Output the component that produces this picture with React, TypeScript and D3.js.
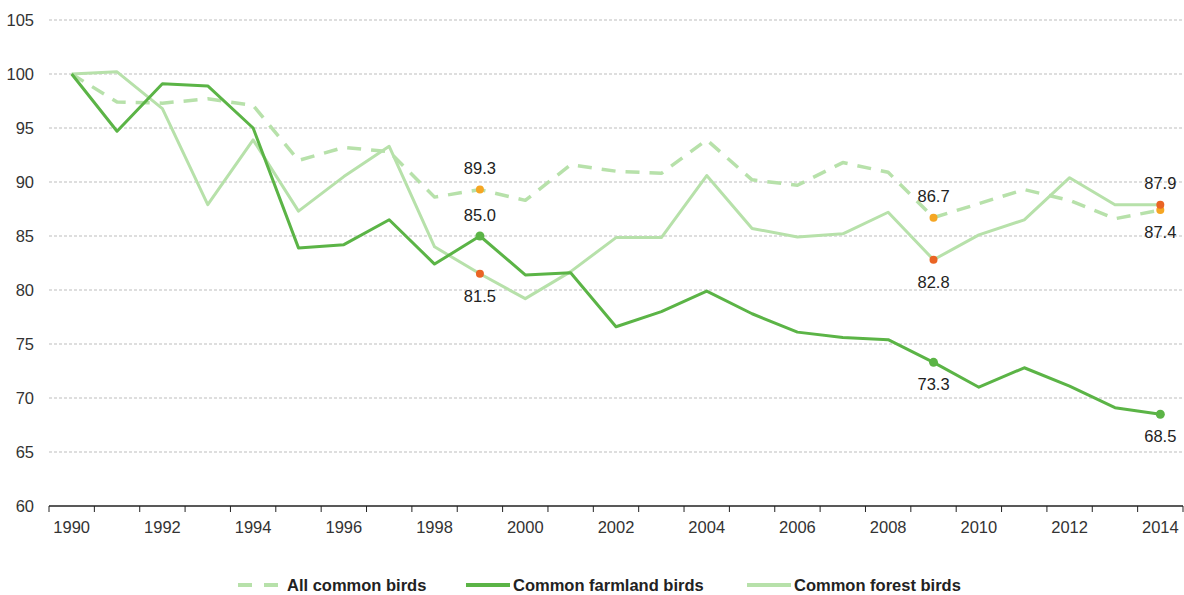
import React from "react";
import * as d3 from "d3";

const years = d3.range(1990, 2015).map(String);
const tickYears = years.filter((_, i) => i % 2 === 0);
const yTicks = [60, 65, 70, 75, 80, 85, 90, 95, 100, 105];

const allBirds = [100, 97.4, 97.3, 97.7, 97.1, 92.0, 93.2, 92.8, 88.6, 89.3, 88.3, 91.6, 91.0, 90.8, 93.9, 90.2, 89.7, 91.8, 90.9, 86.7, 88.0, 89.3, 88.3, 86.6, 87.4];
const farmland = [100, 94.7, 99.1, 98.9, 95.0, 83.9, 84.2, 86.5, 82.4, 85.0, 81.4, 81.6, 76.6, 78.0, 79.9, 77.8, 76.1, 75.6, 75.4, 73.3, 71.0, 72.8, 71.1, 69.1, 68.5];
const forest = [100, 100.2, 96.8, 87.9, 93.9, 87.3, 90.5, 93.3, 84.0, 81.5, 79.2, 81.7, 84.85, 84.85, 90.6, 85.7, 84.9, 85.2, 87.2, 82.8, 85.1, 86.5, 90.4, 87.9, 87.9];

const highlightYears = ["1999", "2009", "2014"];

const DARK = "#5bb446";
const LIGHT = "#b7e1aa";
const ORANGE = "#f5a623";
const RED = "#ea6424";
const FONT = "Arial, 'Liberation Sans', sans-serif";

export default function App() {
  const W = 1184, H = 595;
  const left = 49, right = 1183, top = 20, bottom = 506;
  const x = d3.scaleBand<string>().domain(years).range([left, right]);
  const y = d3.scaleLinear().domain([60, 105]).range([bottom, top]);
  const cx = (yr: string) => (x(yr) as number) + x.bandwidth() / 2;
  const line = (vals: number[]) =>
    d3.line<number>().x((_, i) => cx(years[i])).y((d) => y(d))(vals) as string;

  type Lab = { series: number[]; color: string; r: number; above: boolean };
  const labelsFor = (yr: string): Lab[] => [
    { series: farmland, color: DARK, r: 4.5, above: yr === "1999" },
    { series: allBirds, color: ORANGE, r: 4, above: yr !== "2014" },
    { series: forest, color: RED, r: 4, above: yr === "2014" },
  ];

  const boundaries = years.map((yr) => x(yr) as number).concat([right]);

  return (
    <svg width={W} height={H} style={{ display: "block", position: "absolute", left: 0, top: 0 }} fontFamily={FONT}>
      <rect width={W} height={H} fill="#fff" />
      {yTicks.filter((t) => t > 60).map((t) => (
        <line key={t} x1={left} x2={right} y1={y(t)} y2={y(t)} stroke="#bdbdbd" strokeWidth={1} strokeDasharray="3,2" />
      ))}
      {yTicks.map((t) => (
        <text key={t} x={34} y={y(t)} dy="0.35em" textAnchor="end" fontSize={16.5} fill="#333">{t}</text>
      ))}
      <line x1={left} x2={right} y1={bottom} y2={bottom} stroke="#222" strokeWidth={1.5} />
      {boundaries.map((b, i) => (
        <line key={i} x1={b} x2={b} y1={bottom} y2={bottom + 6} stroke="#222" strokeWidth={1} />
      ))}
      {tickYears.map((yr) => (
        <text key={yr} x={cx(yr)} y={bottom + 21} dy="0.35em" textAnchor="middle" fontSize={16.5} fill="#333">{yr}</text>
      ))}

      <path d={line(forest)} fill="none" stroke={LIGHT} strokeWidth={3} strokeLinejoin="round" />
      <path d={line(allBirds)} fill="none" stroke={LIGHT} strokeWidth={3.5} strokeDasharray="14,10" strokeLinejoin="round" />
      <path d={line(farmland)} fill="none" stroke={DARK} strokeWidth={3} strokeLinejoin="round" />

      {highlightYears.map((yr) => {
        const i = years.indexOf(yr);
        return labelsFor(yr).map((o, k) => {
          const v = o.series[i];
          const px = cx(yr), py = y(v);
          return (
            <g key={yr + k}>
              <circle cx={px} cy={py} r={o.r} fill={o.color} />
              <text x={px} y={o.above ? py - 21 : py + 22} dy="0.35em" textAnchor="middle" fontSize={16.5} fill="#222">{v.toFixed(1)}</text>
            </g>
          );
        });
      })}

      <g fontSize={16.5} fontWeight="bold" fill="#222">
        <line x1={238} x2={278} y1={585} y2={585} stroke={LIGHT} strokeWidth={4} strokeDasharray="14,12" />
        <text x={287} y={585} dy="0.35em">All common birds</text>
        <line x1={466} x2={510} y1={585} y2={585} stroke={DARK} strokeWidth={4} />
        <text x={513} y={585} dy="0.35em">Common farmland birds</text>
        <line x1={747} x2={791} y1={585} y2={585} stroke={LIGHT} strokeWidth={4} />
        <text x={794} y={585} dy="0.35em">Common forest birds</text>
      </g>
    </svg>
  );
}
